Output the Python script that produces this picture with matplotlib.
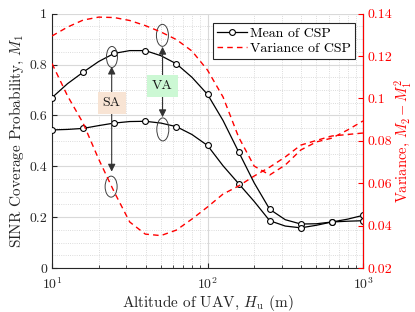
import numpy as np
import matplotlib
matplotlib.use('Agg')
import matplotlib.pyplot as plt
from matplotlib.patches import Ellipse

plt.rcParams['font.family'] = 'serif'
plt.rcParams['font.serif'] = ['cmr10']
plt.rcParams['mathtext.fontset'] = 'cm'
plt.rcParams['axes.formatter.use_mathtext'] = True
plt.rcParams['axes.unicode_minus'] = False

# alturas (m): 21 puntos, marcadores cada dos
altura = np.logspace(1, 3, 21)

# media de la CSP
media_sa = [0.670, 0.725, 0.770, 0.812, 0.844, 0.855, 0.855, 0.835, 0.803, 0.750,
            0.683, 0.580, 0.457, 0.335, 0.231, 0.190, 0.173, 0.174, 0.181, 0.192, 0.207]
media_va = [0.543, 0.545, 0.549, 0.560, 0.570, 0.576, 0.577, 0.570, 0.556, 0.525,
            0.482, 0.402, 0.332, 0.262, 0.186, 0.165, 0.158, 0.168, 0.181, 0.184, 0.186]

# varianza de la CSP
var_sa = [0.1165, 0.1012, 0.0884, 0.0714, 0.0559, 0.0417, 0.0360, 0.0353, 0.0379, 0.0431,
          0.0488, 0.0549, 0.0587, 0.0634, 0.0676, 0.0724, 0.0780, 0.0802, 0.0823, 0.0830, 0.0837]
var_va = [0.1295, 0.1337, 0.1370, 0.1384, 0.1382, 0.1368, 0.1344, 0.1314, 0.1278, 0.1224,
          0.1134, 0.1007, 0.0818, 0.0681, 0.0639, 0.0686, 0.0757, 0.0795, 0.0813, 0.0851, 0.0894]

yticks_izq = [0, 0.2, 0.4, 0.6, 0.8, 1]
yticks_der = [0.02, 0.04, 0.06, 0.08, 0.1, 0.12, 0.14]

fig = plt.figure(figsize=(4.15, 3.12), dpi=100)
ax = fig.add_axes([0.1253, 0.141, 0.7494, 0.815])
ax2 = ax.twinx()

gris = '#262626'
l1, = ax.plot(altura, media_sa, 'k-o', lw=0.9, ms=4.2, mfc='white', mew=0.8,
              markevery=2, label='Mean of CSP', zorder=5)
ax.plot(altura, media_va, 'k-o', lw=0.9, ms=4.2, mfc='white', mew=0.8,
        markevery=2, zorder=5)
l2, = ax2.plot(altura, var_sa, '--', color='#ff0000', lw=1.0, dashes=(4, 3),
               label='Variance of CSP')
ax2.plot(altura, var_va, '--', color='#ff0000', lw=1.0, dashes=(4, 3))

ax.set_xscale('log')
ax.set_xlim(10, 1000)
ax.set_ylim(0, 1)
ax.set_yticks(yticks_izq)
ax.set_yticklabels(['0', '0.2', '0.4', '0.6', '0.8', '1'])
ax.set_yticks(np.arange(0, 1.001, 0.05), minor=True)
ax2.set_ylim(0.02, 0.14)
ax2.set_yticks(yticks_der)
ax2.set_yticklabels(['0.02', '0.04', '0.06', '0.08', '0.1', '0.12', '0.14'])

ax.grid(which='major', color='#d9d9d9', lw=0.8)
ax.grid(which='minor', color='#d0d0d0', lw=0.6, ls=':')
ax.set_axisbelow(True)

ax.tick_params(which='both', direction='in', colors=gris, labelsize=10, top=False, right=False)
ax.tick_params(which='minor', length=2, left=False)
ax.tick_params(which='major', length=3.5)
ax.tick_params(axis='x', pad=6)
ax2.tick_params(which='both', direction='in', colors='#ff0000', labelsize=10, length=3.5, pad=3)
ax2.tick_params(which='minor', right=False)

for s in ['top']:
    ax.spines[s].set_visible(False)
    ax2.spines[s].set_visible(False)
ax.spines['left'].set_color(gris)
ax.spines['bottom'].set_color(gris)
ax2.spines['right'].set_color('#ff0000')
ax2.spines['left'].set_visible(False)
ax2.spines['bottom'].set_visible(False)

ax.set_xlabel('Altitude of UAV, $H_\\mathrm{u}$ (m)', fontsize=11, color=gris, labelpad=1)
ax.set_ylabel('SINR Coverage Probability, $M_1$', fontsize=11, color=gris, labelpad=2)
ax2.set_ylabel('Variance, $M_2-M_1^2$', fontsize=10.5, color='#ff0000', labelpad=0)

ley = ax2.legend([l1, l2], ['Mean of CSP', 'Variance of CSP'], loc='upper right',
                 bbox_to_anchor=(0.975, 0.965), fontsize=10, fancybox=False,
                 edgecolor=gris, framealpha=1, handlelength=2.2, handletextpad=0.2,
                 borderpad=0.3, labelspacing=0.2, borderaxespad=0)
ley.get_frame().set_linewidth(0.8)

# elipses y flechas (en coordenadas de ejes)
ancho_px = ax.get_position().width * fig.get_figwidth() * fig.dpi
alto_px = ax.get_position().height * fig.get_figheight() * fig.dpi

def a_ejes(x, y):
    return ax.transAxes.inverted().transform(ax.transData.transform((x, y)))

elipses = [(24.3, 0.83, 11, 21), (51.3, 0.915, 12, 22), (51.6, 0.545, 12, 23), (24.0, 0.32, 12, 21)]
for x, y, w, h in elipses:
    cx, cy = a_ejes(x, y)
    ax.add_patch(Ellipse((cx, cy), w / ancho_px, h / alto_px, transform=ax.transAxes,
                         fill=False, ec='#404040', lw=0.7, zorder=6))

flechas = [(24.2, 0.65, 0.792, 'SA', '#f8e4d4'), (51.4, 0.716, 0.870, 'VA', '#ccf8d4')]
bajadas = [0.379, 0.593]
for (x, yc, yup, txt, col), ydn in zip(flechas, bajadas):
    for yt in (yup, ydn):
        ax.annotate('', xy=(x, yt), xytext=(x, yc),
                    arrowprops=dict(arrowstyle='-|>', color='#333333', lw=0.8,
                                    mutation_scale=11, shrinkA=0, shrinkB=0), zorder=6)
    ax.text(x, yc, txt, ha='center', va='center', fontsize=10, color='#1a1a1a', zorder=7,
            bbox=dict(boxstyle='square,pad=0.35', fc=col, ec='none'))

fig.savefig('out.png', dpi=100)
